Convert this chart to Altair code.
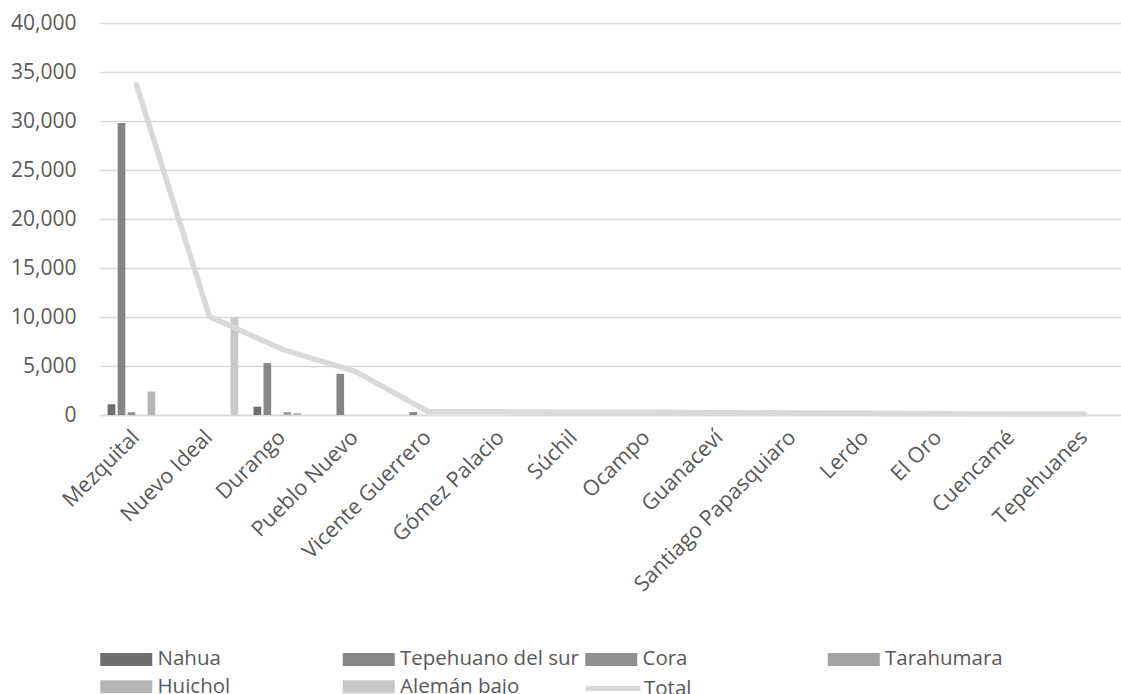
import altair as alt
import pandas as pd

# Speakers of indigenous languages by municipality (Durango)
municipios = [
    "Mezquital", "Nuevo Ideal", "Durango", "Pueblo Nuevo", "Vicente Guerrero",
    "Gómez Palacio", "Súchil", "Ocampo", "Guanaceví", "Santiago Papasquiaro",
    "Lerdo", "El Oro", "Cuencamé", "Tepehuanes",
]
lenguas = ["Nahua", "Tepehuano del sur", "Cora", "Tarahumara", "Huichol", "Alemán bajo"]

nahua = [1100, 0, 850, 0, 0, 0, 0, 0, 0, 0, 0, 0, 0, 0]
tepehuano_sur = [29800, 0, 5300, 4200, 300, 0, 0, 0, 0, 0, 0, 0, 0, 0]
cora = [280, 0, 0, 0, 0, 0, 0, 0, 0, 0, 0, 0, 0, 0]
tarahumara = [0, 0, 300, 0, 0, 0, 0, 0, 0, 0, 0, 0, 0, 0]
huichol = [2400, 0, 200, 0, 0, 0, 0, 0, 0, 0, 0, 0, 0, 0]
aleman_bajo = [0, 9950, 0, 0, 0, 0, 0, 0, 0, 0, 0, 0, 0, 0]
total = [33700, 10050, 6700, 4450, 340, 320, 290, 270, 240, 200, 170, 140, 110, 90]

colores = ["#6f6f6f", "#868686", "#8f8f8f", "#a3a3a3", "#b6b6b6", "#c9c9c9"]
color_total = "#d9d9d9"

FONT = "Open Sans"
TEXT = "#595959"
GRID = "#d9d9d9"

# Legend swatches: a small nominal symbol size keeps the rows compact,
# while the path itself reaches to the right to draw a wide swatch.
SWATCH_BAR = "M-1,-0.65H4.2V0.65H-1Z"
SWATCH_LINE = "M-1,0H4.5"

rows = []
for lengua, valores in zip(lenguas, [nahua, tepehuano_sur, cora, tarahumara, huichol, aleman_bajo]):
    for m, v in zip(municipios, valores):
        rows.append({"Municipio": m, "Lengua": lengua, "Hablantes": v})
barras_df = pd.DataFrame(rows)
total_df = pd.DataFrame({"Municipio": municipios, "Hablantes": total, "Serie": ["Total"] * len(municipios)})

x_enc = alt.X(
    "Municipio:N",
    sort=municipios,
    scale=alt.Scale(paddingInner=0.21, paddingOuter=0.105),
    axis=alt.Axis(
        title=None, labelAngle=315, labelAlign="right", labelBaseline="middle",
        labelPadding=19, ticks=False, domainColor=GRID, domainWidth=1.5,
        labelFont=FONT, labelFontSize=21.5, labelColor=TEXT, labelLimit=400,
        labelOverlap=False,
    ),
)
y_scale = alt.Scale(domain=[0, 40000], nice=False)
y_axis = alt.Axis(
    title=None, values=list(range(0, 40001, 5000)), format=",d",
    ticks=False, domain=False, grid=True, gridColor=GRID, gridWidth=1.3,
    labelFont=FONT, labelFontSize=21, labelColor=TEXT, labelPadding=24,
)

barras = alt.Chart(barras_df).mark_bar().encode(
    x=x_enc,
    xOffset=alt.XOffset("Lengua:N", sort=lenguas, scale=alt.Scale(paddingInner=0.23, paddingOuter=0)),
    y=alt.Y("Hablantes:Q", scale=y_scale, axis=y_axis),
    color=alt.Color(
        "Lengua:N", sort=lenguas,
        scale=alt.Scale(domain=lenguas, range=colores),
        legend=alt.Legend(
            title=None, orient="none", legendX=0, legendY=626,
            direction="horizontal", columns=4, gridAlign="all",
            symbolType=SWATCH_BAR, symbolSize=400,
            symbolStrokeWidth=0, symbolOpacity=1,
            labelFont=FONT, labelFontSize=20.5, labelColor=TEXT,
            labelLimit=400, labelOffset=37, columnPadding=5.5, rowPadding=6.5,
        ),
    ),
)

linea = alt.Chart(total_df).mark_line(strokeWidth=5.5, strokeCap="round", strokeJoin="round").encode(
    x=alt.X("Municipio:N", sort=municipios),
    y=alt.Y("Hablantes:Q", scale=y_scale),
    stroke=alt.Stroke(
        "Serie:N",
        scale=alt.Scale(domain=["Total"], range=[color_total]),
        legend=alt.Legend(
            title=None, orient="none", legendX=483, legendY=653,
            symbolType=SWATCH_LINE, symbolSize=400, symbolStrokeWidth=5,
            labelFont=FONT, labelFontSize=20.5, labelColor=TEXT, labelOffset=36,
        ),
    ),
)

chart = (
    alt.layer(barras, linea)
    .resolve_scale(color="independent")
    .properties(
        width=1021, height=392,
        padding={"left": 100, "top": 23, "right": 0, "bottom": 279},
        autosize=alt.AutoSizeParams(type="none"),
        background="white",
    )
    .configure_view(stroke=None)
)

chart.save("out.html", embed_options={"renderer": "svg", "actions": False})
